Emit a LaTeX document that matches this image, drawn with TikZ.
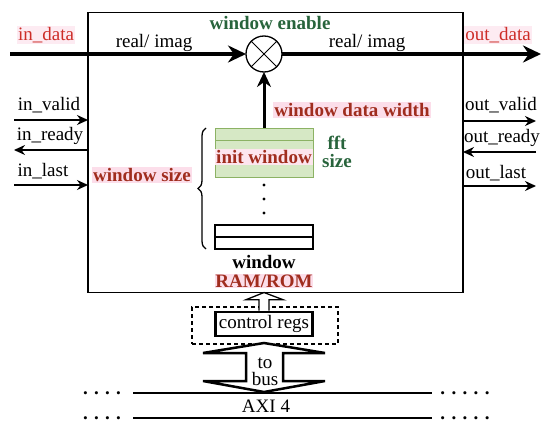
\documentclass[tikz,border=0pt]{standalone}
\usepackage{fontspec}
\setmainfont{Liberation Serif}
\usetikzlibrary{arrows.meta,decorations.pathreplacing,calc}
\definecolor{dred}{RGB}{160,45,30}
\definecolor{lred}{RGB}{205,45,40}
\definecolor{dgreen}{RGB}{40,100,60}
\definecolor{gfill}{RGB}{214,232,197}
\definecolor{gline}{RGB}{140,178,100}
\definecolor{hl}{RGB}{252,222,234}
\begin{document}
\begin{tikzpicture}[x=1pt,y=-1pt,
  every node/.style={font=\fontsize{19}{22}\selectfont, inner sep=1pt},
  hlbl/.style={fill=hl, text=dred, font=\fontsize{19}{22}\selectfont\bfseries},
  portlbl/.style={fill=hl!60, text=lred},
  gtxt/.style={text=dgreen, font=\fontsize{19}{22}\selectfont\bfseries},
  btxt/.style={font=\fontsize{19}{22}\selectfont\bfseries},
  sig/.style={line width=1.4pt, -{Stealth[length=11pt,width=10pt]}},
  datarrow/.style={line width=3.5pt, -{Stealth[length=18pt,width=17pt]}},
  hollow/.style={fill=white, line join=miter}
]
\useasboundingbox (0,0) rectangle (550,431);
% main box
\node[draw, line width=1.5pt, minimum width=375pt, minimum height=280pt, outer sep=0pt] (main) at (275.5,152.5) {};
% multiplier
\node[circle, draw, line width=1.3pt, minimum size=36pt, fill=white, outer sep=0pt] (mult) at (264,54) {};
\draw[line width=1pt] (mult.north east) -- (mult.south west);
\draw[line width=1pt] (mult.north west) -- (mult.south east);
% data path
\coordinate (din) at (10,54);
\coordinate (dout) at (541,54);
\draw[datarrow] (din) -- (mult);
\draw[datarrow] (mult) -- (dout);
\node[portlbl] (lin) at (46,35) {in\_data};
\node (ri1) at (154,43) {real/ imag};
\node[gtxt] (we) at (270,23) {window enable};
\node (ri2) at (367,43) {real/ imag};
\node[portlbl] (lout) at (498,35) {out\_data};
% left ports
\coordinate (ivs) at (14,120);
\coordinate (irs) at (14,150);
\coordinate (ils) at (14,185);
\draw[sig] (ivs) -- (ivs -| main.west);
\draw[sig] (irs -| main.west) -- (irs);
\draw[sig] (ils) -- (ils -| main.west);
\node (liv) at (49,105) {in\_valid};
\node (lir) at (50,136) {in\_ready};
\node (lil) at (43,171) {in\_last};
% right ports
\coordinate (ovs) at (536,121);
\coordinate (ors) at (536,152);
\coordinate (ols) at (536,186);
\draw[sig] (ovs -| main.east) -- (ovs);
\draw[sig] (ors) -- (ors -| main.east);
\draw[sig] (ols -| main.east) -- (ols);
\node (lov) at (501,105) {out\_valid};
\node (lor) at (502,138) {out\_ready};
\node (lol) at (496,173) {out\_last};
% window memory
\node[draw=gline, fill=gfill, line width=1pt, minimum width=98pt, minimum height=49pt] (gbox) at (264,152.5) {};
\foreach \yy in {140.25,152.5,164.75} \draw[gline, line width=1pt] (215,\yy) -- (313,\yy);
\node[hlbl, fill=hl!80] (iw) at (264,157) {init window};
\draw[line width=3pt, -{Stealth[length=15pt,width=14pt]}] (gbox.north) -- (mult.south);
\node[hlbl] (wdw) at (352,110) {window data width};
\node[gtxt] (fft1) at (337,143) {fft};
\node[gtxt] (fft2) at (337,161) {size};
\foreach \yy in {185,199,213} \fill (264,\yy) circle (1.6pt);
\node[draw, line width=1.3pt, minimum width=98pt, minimum height=24pt] (wbox) at (264,237) {};
\draw[line width=1.3pt] (wbox.west) -- (wbox.east);
\draw[decorate, decoration={brace, amplitude=8pt}, line width=1.3pt] (206,249) -- (206,128);
\node[hlbl] (ws) at (142,175) {window size};
\node[btxt, inner sep=0pt] (wl) at (264,262) {window};
\node[hlbl, inner sep=0.3pt] (rr) at (264,281) {RAM/ROM};
% control regs
\node[draw, dashed, dash pattern=on 4pt off 3pt, line width=1.1pt, minimum width=146pt, minimum height=37pt] (dash) at (265,325.5) {};
\node[draw, line width=2.6pt, minimum width=97pt, minimum height=24pt, inner sep=0pt] (creg) at (264,324) {control regs};
\coordinate (tip) at (creg.north |- main.south);
\draw[hollow, line width=1.3pt] ($(creg.north)+(-5,0)$) -- ++(0,-11) -- ++(-13,0) -- (tip) -- ($(creg.north)+(19,-11)$) -- ++(-14,0) -- ++(0,11);
% bus arrow
\draw[hollow, line width=2.5pt] (264,343) -- (325,353) -- (283,353) -- (283,381) -- (325,381) -- (264,392) -- (203,381) -- (246,381) -- (246,353) -- (203,353) -- cycle;
\node (to) at (265,363) {to};
\node (bus) at (265,379) {bus};
% AXI bus
\coordinate (a1l) at (133,393); \coordinate (a1r) at (432,393);
\coordinate (a2l) at (133,418); \coordinate (a2r) at (432,418);
\draw[line width=1.2pt] (a1l) -- (a1r);
\draw[line width=1.2pt] (a2l) -- (a2r);
\node (axi) at (266,406) {AXI 4};
\node[btxt, anchor=base] (d1) at (102,394) {. . . .};
\node[btxt, anchor=base] (d2) at (102,419) {. . . .};
\node[btxt, anchor=base] (d3) at (465,394) {. . . . .};
\node[btxt, anchor=base] (d4) at (465,419) {. . . . .};
\end{tikzpicture}
\end{document}
